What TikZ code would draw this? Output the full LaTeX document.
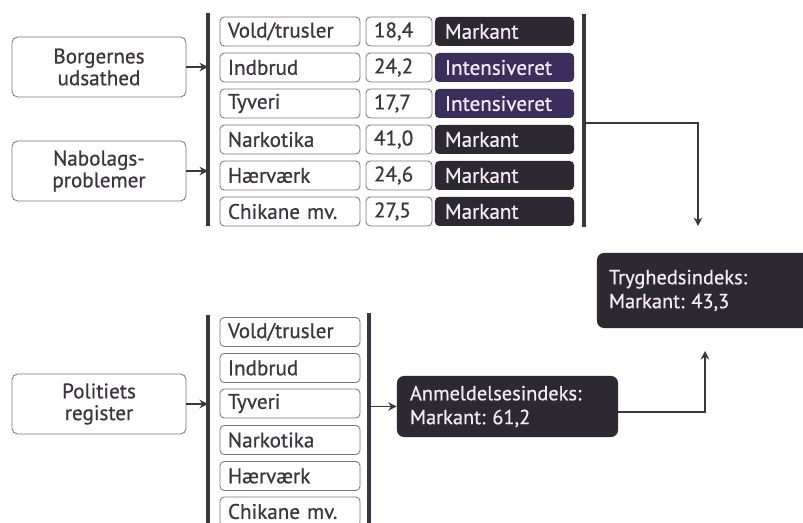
\documentclass[tikz,border=0pt]{standalone}
\usepackage{fontspec}
\setmainfont[FakeBold=0.6]{PT Sans}
\usetikzlibrary{arrows.meta}
\definecolor{boxline}{HTML}{7A767E}
\definecolor{inktext}{HTML}{3A3540}
\definecolor{markfill}{HTML}{2C2932}
\definecolor{intfill}{HTML}{3B2D5C}
\definecolor{paletext}{HTML}{F2ECF2}
\tikzset{
  sourcebox/.style={draw=boxline, rounded corners=4pt, line width=0.6pt, fill=white,
    minimum width=4.35cm, minimum height=1.5cm, align=center, text=inktext,
    font=\fontsize{15}{15.5}\selectfont},
  catbox/.style={draw=boxline, rounded corners=3pt, line width=0.6pt, fill=white,
    text width=3.1cm, inner xsep=0.2cm, minimum height=0.725cm, align=left,
    text=inktext, font=\fontsize{15}{15}\selectfont},
  numbox/.style={catbox, text width=1.25cm},
  markbox/.style={draw=none, rounded corners=3pt, fill=markfill, text width=2.975cm,
    inner xsep=0.25cm, minimum height=0.725cm, align=left, text=paletext,
    font=\fontsize{15}{15}\selectfont},
  intbox/.style={markbox, fill=intfill},
  indexbox/.style={draw=none, rounded corners=5pt, fill=markfill, align=left,
    text=paletext, font=\fontsize{14.5}{17}\selectfont},
  bar/.style={line width=2.2pt, draw=inktext},
  link/.style={line width=1pt, draw=inktext, -{Stealth[length=6pt,width=6pt]}}
}
\frenchspacing
\begin{document}
\begin{tikzpicture}[x=0.025cm, y=-0.025cm]
    \useasboundingbox (0,0) rectangle (803,523);

    \node[sourcebox] (borg) at (99,67) {Borgernes\\udsathed};
    \node[sourcebox] (nabo) at (99,171) {Nabolags-\\problemer};
    \node[sourcebox] (poli) at (99,404) {Politiets\\register};

    \coordinate (topL1) at (208,13);
    \coordinate (topL2) at (208,226);
    \coordinate (topR1) at (584,14);
    \coordinate (topR2) at (584,227);
    \coordinate (botL1) at (208,315);
    \coordinate (botL2) at (208,530);
    \coordinate (botR1) at (369,313);
    \coordinate (botR2) at (369,530);
    \draw[bar] (topL1) -- (topL2);
    \draw[bar] (topR1) -- (topR2);
    \draw[bar] (botL1) -- (botL2);
    \draw[bar] (botR1) -- (botR2);

    \node[catbox] (vold) at (290,31.5) {Vold/trusler};
    \node[catbox] (indb) at (290,67.5) {Indbrud};
    \node[catbox] (tyve) at (290,103.5) {Tyveri};
    \node[catbox] (nark) at (290,139.5) {Narkotika};
    \node[catbox] (haer) at (290,175.5) {Hærværk};
    \node[catbox] (chik) at (290,211.5) {Chikane mv.};

    \node[numbox] (nvold) at (399,31.5) {18,4};
    \node[numbox] (nindb) at (399,67.5) {24,2};
    \node[numbox] (ntyve) at (399,103.5) {17,7};
    \node[numbox] (nnark) at (399,139.5) {41,0};
    \node[numbox] (nhaer) at (399,175.5) {24,6};
    \node[numbox] (nchik) at (399,211.5) {27,5};

    \node[markbox] (svold) at (504.5,31.5) {Markant};
    \node[intbox]  (sindb) at (504.5,67.5) {Intensiveret};
    \node[intbox]  (styve) at (504.5,103.5) {Intensiveret};
    \node[markbox] (snark) at (504.5,139.5) {Markant};
    \node[markbox] (shaer) at (504.5,175.5) {Markant};
    \node[markbox] (schik) at (504.5,211.5) {Markant};

    \node[catbox] (bvold) at (290,332) {Vold/trusler};
    \node[catbox] (bindb) at (290,368) {Indbrud};
    \node[catbox] (btyve) at (290,403.5) {Tyveri};
    \node[catbox] (bnark) at (290,440) {Narkotika};
    \node[catbox] (bhaer) at (290,476) {Hærværk};
    \node[catbox] (bchik) at (290,511.5) {Chikane mv.};

    \node[indexbox, text width=4.875cm, inner xsep=0.325cm, minimum height=1.525cm]
      (anm) at (507.5,406.5) {Anmeldelsesindeks:\\Markant: 61,2};
    \node[indexbox, text width=5cm, inner xsep=0.3cm, minimum height=1.875cm]
      (tryg) at (709,290.5) {Tryghedsindeks:\\Markant: 43,3};

    \coordinate (dropTop) at (698,226);
    \coordinate (riseEnd) at (705,351);

    \draw[link] (borg.east) -- (borg.east -| topL1);
    \draw[link] (nabo.east) -- (nabo.east -| topL1);
    \draw[link] (poli.east) -- (poli.east -| botL1);
    \draw[link] (584,123) -| (dropTop);
    \draw[link] (botR1 |- anm.west) -- (anm.west);
    \draw[link] (anm.east |- 0,412) -| (riseEnd);
\end{tikzpicture}
\end{document}
